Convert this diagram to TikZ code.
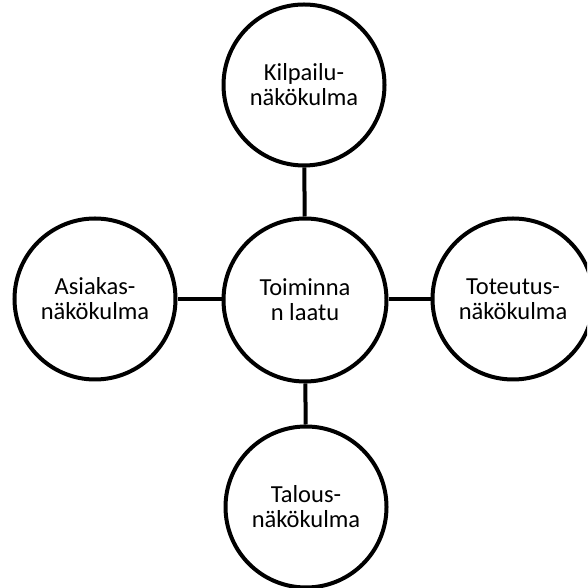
\documentclass[tikz,border=0pt]{standalone}
\usepackage{fontspec}
\setmainfont{Carlito}
\usetikzlibrary{positioning}

\begin{document}
\begin{tikzpicture}[x=1pt, y=1pt,
  view/.style={draw, circle, line width=4pt, minimum size=161pt, align=center, font=\fontsize{24.5}{25}\selectfont},
  link/.style={line width=4pt}]
\clip (0,0) rectangle (587,588);
\useasboundingbox (0,0) rectangle (587,588);
% Circles
\node[view, minimum size=163pt] (quality) at (305,288) {Toiminna\\n laatu};
\node[view] (competition) at (304,503) {Kilpailu-\\näkökulma};
\node[view] (customer) at (95,289) {Asiakas-\\näkökulma};
\node[view] (implementation) at (513,289) {Toteutus-\\näkökulma};
\node[view] (economy) at (306,81) {Talous-\\näkökulma};

% Lines
\draw[link] (quality) -- (competition);
\draw[link] (quality.west |- customer.east) -- (customer.east);
\draw[link] (quality.east |- implementation.west) -- (implementation.west);
\draw[link] (quality) -- (economy);
\end{tikzpicture}
\end{document}
